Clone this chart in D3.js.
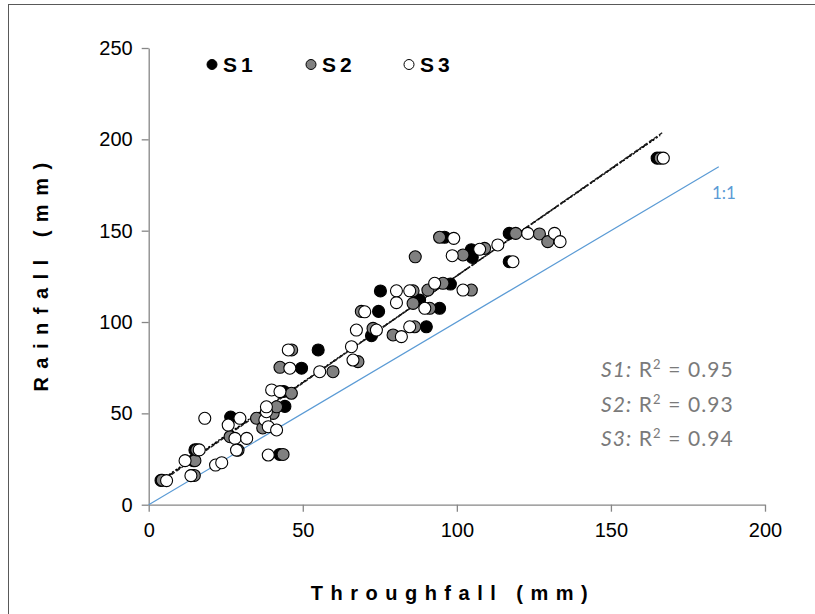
<!DOCTYPE html>
<html><head><meta charset="utf-8">
<script src="https://cdn.jsdelivr.net/npm/d3@7"></script>
<style>
html,body{margin:0;padding:0;background:#fff;}
svg{display:block;}
</style></head>
<body><svg id="chart" width="815" height="614"></svg>
<script>
// ---- data ----
const seriesNames = ["S1", "S2", "S3"];
const s1Throughfall = [4.0,14.0,14.5,15.0,26.6,42.5,44.2,43.8,49.6,55.0,72.3,74.6,75.2,87.9,90.1,94.4,96.0,97.9,104.7,105.0,117.0,117.0,165.0];
const s1Rainfall    = [13.3,16.0,24.1,30.0,48.0,27.5,53.8,62.0,74.7,84.7,92.5,105.8,117.0,112.0,97.4,107.5,146.4,120.8,139.6,135.4,148.5,133.0,189.7];
const s2Throughfall = [4.4,14.8,15.0,15.6,29.0,26.4,35.0,40.4,41.5,43.6,46.3,42.6,46.4,59.8,67.9,69.0,72.8,79.3,86.3,85.8,91.2,90.6,95.5,104.7,86.5,94.4,102.0,109.0,119.1,126.8,129.5,166.0,85.8,37.0];
const s2Rainfall    = [13.4,16.0,24.1,30.0,29.9,37.2,47.3,50.0,53.6,27.5,61.0,75.2,84.7,72.8,78.3,105.8,96.5,92.9,97.4,110.2,107.5,117.5,121.2,117.5,135.7,146.4,136.7,140.3,148.5,148.2,144.0,189.7,117.1,42.0];
const s3Throughfall = [5.8,13.7,11.8,16.4,18.2,21.7,23.7,25.8,28.0,31.8,28.5,29.6,37.7,38.2,38.8,41.5,39.9,42.6,38.2,38.8,45.3,45.8,55.5,65.8,66.3,67.4,70.1,73.9,80.4,80.4,82.0,84.7,84.7,89.6,92.8,99.0,98.5,102.0,107.4,113.3,123.0,131.7,133.5,118.2,167.0];
const s3Rainfall    = [13.2,15.9,24.1,30.0,47.3,21.7,23.0,43.6,36.3,36.3,29.9,47.3,46.4,50.9,42.7,40.9,62.8,61.9,53.6,27.2,84.7,74.7,72.8,86.5,79.2,95.6,105.6,95.6,110.6,117.1,92.0,97.4,117.1,107.5,121.2,145.8,136.3,117.5,139.8,142.2,148.5,148.5,144.0,133.0,189.7];
// linear trend lines: slope, intercept, x range
const trendSlopes     = [1.170, 1.165, 1.175];
const trendIntercepts = [8.3, 8.8, 7.8];
const trendXStart     = [4.0, 4.4, 5.8];
const trendXEnd       = [165.0, 166.0, 167.0];
const r2Values = ["0.95", "0.93", "0.94"];
const oneToOneEnd = 185;
const xTicks = [0, 50, 100, 150, 200];
const yTicks = [0, 50, 100, 150, 200, 250];

// ---- chart ----
const svg = d3.select("#chart");
svg.append("rect").attr("width", 815).attr("height", 614).attr("fill", "#fff");
// outer frame (top and left visible)
svg.append("rect").attr("x", 8.5).attr("y", 4.5).attr("width", 900).attr("height", 700)
  .attr("fill", "none").attr("stroke", "#595959").attr("stroke-width", 1);

const x = d3.scaleLinear().domain([0, 200]).range([148.7, 765]);
const y = d3.scaleLinear().domain([0, 250]).range([504.7, 48]);
const axisColor = "#868686";

// axes
const xAxis = svg.append("g").attr("transform", `translate(0,${y(0)})`)
  .call(d3.axisBottom(x).tickValues(xTicks).tickSize(7).tickSizeOuter(0).tickPadding(11));
const yAxis = svg.append("g").attr("transform", `translate(${x(0)},0)`)
  .call(d3.axisLeft(y).tickValues(yTicks).tickSize(7).tickSizeOuter(0).tickPadding(9));
[xAxis, yAxis].forEach(g => {
  g.select(".domain").attr("stroke", axisColor).attr("stroke-width", 1.3);
  g.selectAll(".tick line").attr("stroke", axisColor).attr("stroke-width", 1.3);
  g.selectAll(".tick text").attr("fill", "#000").attr("font-family", "Liberation Sans, Arial, sans-serif").attr("font-size", 20);
});

// 1:1 line
svg.append("line")
  .attr("x1", x(0)).attr("y1", y(0)).attr("x2", x(oneToOneEnd)).attr("y2", y(oneToOneEnd))
  .attr("stroke", "#5b9bd5").attr("stroke-width", 1.2);
svg.append("text").attr("x", 712).attr("y", 199).text("1:1")
  .attr("fill", "#5b9bd5").attr("font-family", "Lato, Liberation Sans, sans-serif").attr("font-size", 17);

// trend lines
const trendDash = ["6,3", "2,2", "4,2"];
const trendColor = ["#000", "#000", "#222"];
seriesNames.forEach((s, i) => {
  const x0 = trendXStart[i], x1 = trendXEnd[i];
  svg.append("line")
    .attr("x1", x(x0)).attr("y1", y(trendIntercepts[i] + trendSlopes[i] * x0))
    .attr("x2", x(x1)).attr("y2", y(trendIntercepts[i] + trendSlopes[i] * x1))
    .attr("stroke", trendColor[i]).attr("stroke-width", 1.4)
    .attr("stroke-dasharray", trendDash[i]);
});

// points
const fills = ["#000000", "#808080", "#ffffff"];
const tfs = [s1Throughfall, s2Throughfall, s3Throughfall];
const rains = [s1Rainfall, s2Rainfall, s3Rainfall];
seriesNames.forEach((s, i) => {
  const pts = tfs[i].map((t, j) => [t, rains[i][j]]);
  svg.append("g").selectAll("circle").data(pts).join("circle")
    .attr("cx", d => x(d[0])).attr("cy", d => y(d[1])).attr("r", 6)
    .attr("fill", fills[i]).attr("stroke", "#000").attr("stroke-width", 1.1);
});

// legend
const legX = [212, 311, 409];
seriesNames.forEach((s, i) => {
  svg.append("circle").attr("cx", legX[i]).attr("cy", 64.5).attr("r", 5)
    .attr("fill", fills[i]).attr("stroke", "#000").attr("stroke-width", 1);
  svg.append("text").attr("x", legX[i] + 11).attr("y", 72).text(s)
    .attr("font-family", "Liberation Sans, Arial, sans-serif").attr("font-weight", "bold")
    .attr("font-size", 21).attr("letter-spacing", 4).attr("fill", "#000");
});

// R² annotations
const r2Y = [377, 412, 446];
seriesNames.forEach((s, i) => {
  const t = svg.append("text").attr("x", 601).attr("y", r2Y[i])
    .attr("font-family", "Lato, Open Sans, sans-serif").attr("font-size", 21)
    .attr("letter-spacing", 1.1).attr("fill", "#7a7a7a");
  t.append("tspan").attr("font-style", "italic").text(s + ":");
  t.append("tspan").text(" R");
  t.append("tspan").attr("font-size", 13).attr("dy", -8).text("2");
  t.append("tspan").attr("dy", 8).text(" = " + r2Values[i]);
});

// axis titles
svg.append("text").attr("x", 453).attr("y", 600).attr("text-anchor", "middle")
  .text("Throughfall (mm)")
  .attr("font-family", "Liberation Sans, Arial, sans-serif").attr("font-weight", "bold")
  .attr("font-size", 20).attr("letter-spacing", 7.5);
svg.append("text").attr("transform", "translate(48,273) rotate(-90)").attr("text-anchor", "middle")
  .text("Rainfall (mm)")
  .attr("font-family", "Liberation Sans, Arial, sans-serif").attr("font-weight", "bold")
  .attr("font-size", 20).attr("letter-spacing", 8.5);
</script>
</body></html>
